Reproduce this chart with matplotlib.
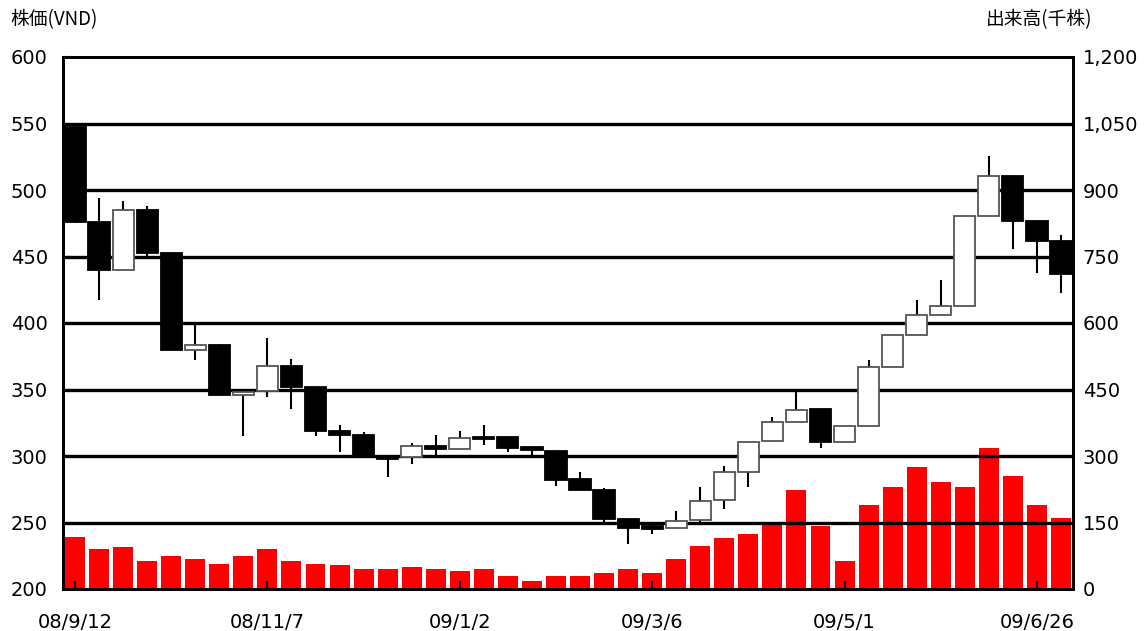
import matplotlib
matplotlib.use("Agg")
import matplotlib.pyplot as plt
from matplotlib.patches import Rectangle
from matplotlib.ticker import FuncFormatter

plt.rcParams['font.family'] = ['DejaVu Sans', 'Noto Sans CJK JP']

# Weekly OHLC (VND) and volume (thousand shares)
opens  = [547.5, 476, 440, 485, 453, 380, 383.7, 346, 348.5, 367.5, 352, 319, 315.5, 300,
          299.5, 307.5, 305, 314.5, 314.3, 306.5, 304, 282.5, 274.5, 252.7, 247.2, 246, 251.7,
          266.7, 288.2, 311, 325.7, 335.3, 310.3, 322.7, 367, 391.3, 406, 413, 480.3, 510.8,
          476.5, 462]
closes = [476, 440, 485, 453, 380, 383.7, 345.8, 348.2, 367.5, 352, 319, 315.5, 300, 298,
          307.5, 305, 313.3, 313, 306.3, 304.3, 282.3, 274.5, 252.7, 246, 244.8, 251.5, 266.5,
          288, 310.7, 325.7, 334.5, 310.3, 322.7, 367, 391.3, 406, 413, 480.3, 510.8, 476.5,
          462, 436.8]
highs  = [548, 494, 492, 488, 453, 401, 384, 348.5, 389, 373, 352, 323, 318, 300,
          309.5, 315.5, 318.7, 323.5, 314.5, 306.5, 304, 288.2, 275.7, 252.7, 250.7, 258.7, 277,
          292.7, 310.7, 329, 348, 335.3, 322.7, 372, 391.3, 417.5, 432.6, 480.3, 525.8, 510.8,
          476.5, 466.5]
lows   = [475, 417, 440, 450.5, 380, 372, 345.8, 315, 344, 335, 315, 303, 300, 284.5,
          293.7, 300, 305, 308, 303.2, 300.7, 277.5, 274.5, 250.7, 234, 241, 246, 250.5,
          260, 276.5, 311, 325.7, 305.8, 310.3, 322.7, 367, 391.3, 406, 413, 480.3, 455.8,
          437.5, 422.8]
volumes = [118, 91, 95, 64, 75, 68, 57, 75, 91, 64, 57, 55, 44, 44, 50, 44, 41, 46, 30, 19,
           30, 30, 37, 46, 37, 68, 98, 116, 125, 147, 224, 143, 64, 190, 229, 276, 242, 231,
           317, 256, 190, 161]
tick_idx = [0, 8, 16, 24, 32, 40]
tick_labels = ['08/9/12', '08/11/7', '09/1/2', '09/3/6', '09/5/1', '09/6/26']
price_ticks = [200, 250, 300, 350, 400, 450, 500, 550, 600]
vol_ticks = [0, 150, 300, 450, 600, 750, 900, 1050, 1200]

fig = plt.figure(figsize=(11.45, 6.31), dpi=100)
ax = fig.add_axes([63/1145, 1 - 589/631, (1073 - 63)/1145, (589 - 57)/631])
ax2 = ax.twinx()
ax.set_zorder(ax2.get_zorder() + 1)
ax.patch.set_visible(False)

n = len(opens)
x = list(range(n))

# volume bars (right axis)
ax2.bar(x, volumes, width=0.83, color='#ff0000', zorder=1)
ax2.set_ylim(0, 1200)
ax2.set_yticks(vol_ticks)
ax2.yaxis.set_major_formatter(FuncFormatter(lambda v, p: f"{int(v):,}"))

# gridlines
for p in price_ticks[1:-1]:
    ax.axhline(p, color='black', lw=2.4, zorder=2)

# candles
w = 0.88
for i in x:
    o, c, h, l = opens[i], closes[i], highs[i], lows[i]
    ax.plot([i, i], [l, h], color='black', lw=1.5, zorder=3, solid_capstyle='butt')
    lo, hi = min(o, c), max(o, c)
    if c >= o:
        face, edge = 'white', '#555555'
    else:
        face, edge = 'black', 'black'
    ax.add_patch(Rectangle((i - w/2, lo), w, max(hi - lo, 0.6), facecolor=face,
                           edgecolor=edge, lw=1.3, zorder=4))

ax.set_xlim(-0.5, n - 0.5)
ax.set_ylim(200, 600)
ax.set_yticks(price_ticks)
ax.set_xticks(tick_idx)
ax.set_xticklabels(tick_labels)

for a in (ax, ax2):
    for s in a.spines.values():
        s.set_linewidth(2)
        s.set_color('black')

ax.tick_params(axis='y', direction='in', length=6, width=1.5, labelsize=14, pad=11)
ax.tick_params(axis='x', direction='in', length=6, width=1.5, labelsize=14, pad=17)
ax2.tick_params(axis='y', direction='in', length=0, labelsize=14, pad=7)

fig.text(10/1145, 1 - 20/631, '株価(VND)', fontsize=13.5, va='center', ha='left',
         family=['Noto Sans CJK JP', 'DejaVu Sans'])
fig.text(1092/1145, 1 - 20/631, '出来高(千株)', fontsize=13.5, va='center', ha='right',
         family=['Noto Sans CJK JP', 'DejaVu Sans'])

fig.savefig('out.png', dpi=100)
